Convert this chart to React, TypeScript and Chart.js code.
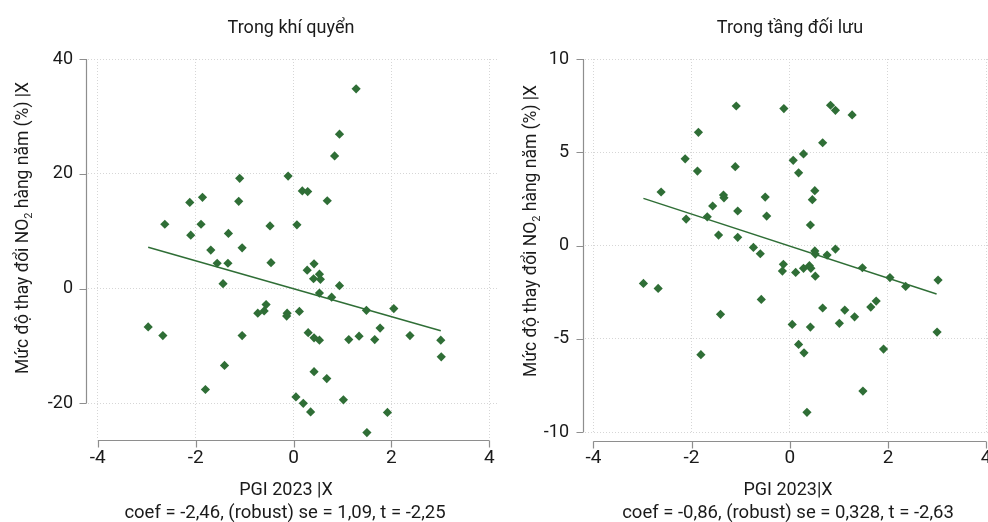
import React, { useEffect, useRef } from 'react';
import { Chart, registerables } from 'chart.js';

Chart.register(...registerables);

// ---------- data ----------
const xTicks = [-4, -2, 0, 2, 4];
const leftYTicks = [-20, 0, 20, 40];
const rightYTicks = [-10, -5, 0, 5, 10];

const leftX = [1.28, 0.94, 0.84, -1.10, -0.11, 0.18, 0.29, 0.69, -2.12, -1.86, -1.12, -2.63, -1.89, -0.48, 0.07, -2.10, -1.33, -1.69, -1.05, -1.56, -1.34, -0.46, 0.42, 0.28, -1.44, 0.53, 0.41, 0.55, 0.94, 0.53, 0.78, 1.49, 2.05, -0.56, -0.73, -0.60, -0.13, -0.14, 0.12, -2.97, -2.67, -1.05, 0.30, 0.42, 0.53, 1.13, 1.34, 1.66, 1.77, 2.38, 3.01, 3.02, -1.41, 0.42, 0.68, -1.80, 0.05, 0.20, 0.35, 1.02, 1.92, 1.50];
const leftY = [34.8, 26.9, 23.1, 19.2, 19.6, 17.0, 16.9, 15.3, 15.0, 15.9, 15.2, 11.2, 11.2, 10.9, 11.1, 9.3, 9.6, 6.7, 7.1, 4.4, 4.4, 4.5, 4.3, 3.2, 0.85, 2.5, 1.7, 1.6, 0.5, -0.8, -1.5, -3.8, -3.5, -2.8, -4.3, -3.9, -4.3, -4.8, -4.0, -6.7, -8.2, -8.2, -7.7, -8.6, -9.0, -8.9, -8.3, -8.9, -6.9, -8.2, -9.0, -11.9, -13.4, -14.5, -15.7, -17.6, -18.9, -20.0, -21.5, -19.4, -21.6, -25.1];
const leftFitX = [-2.97, 3.01];
const leftFitY = [7.2, -7.35];

const rightX = [-1.09, -0.12, 0.83, 0.93, 1.27, -1.86, 0.67, -2.13, 0.28, 0.07, -1.11, -1.88, 0.18, -2.62, -1.35, -1.34, -0.50, 0.51, 0.46, -1.57, -1.06, -0.47, -2.11, -1.68, 0.42, -1.45, -1.06, -0.74, -0.60, 0.93, 0.51, 0.52, 0.76, -0.13, -0.15, 0.12, 0.28, 0.40, 0.43, 1.48, 2.04, 2.36, 3.02, 0.52, -2.98, -2.68, -0.58, 1.76, 1.65, 0.67, 1.12, 1.32, -1.41, 1.01, 0.05, 0.42, 3.00, 0.18, 1.91, -1.81, 0.29, 1.49, 0.35];
const rightY = [7.48, 7.34, 7.52, 7.25, 7.0, 6.07, 5.51, 4.65, 4.91, 4.57, 4.23, 3.99, 3.90, 2.87, 2.71, 2.56, 2.60, 2.94, 2.46, 2.12, 1.85, 1.58, 1.42, 1.54, 1.10, 0.56, 0.44, -0.10, -0.44, -0.19, -0.29, -0.46, -0.51, -1.01, -1.37, -1.44, -1.22, -1.08, -1.22, -1.19, -1.72, -2.19, -1.85, -1.64, -2.03, -2.30, -2.89, -2.98, -3.30, -3.35, -3.46, -3.82, -3.69, -4.17, -4.23, -4.37, -4.64, -5.30, -5.55, -5.85, -5.75, -7.80, -8.94];
const rightFitX = [-2.98, 2.99];
const rightFitY = [2.53, -2.60];

const leftTitle = 'Trong khí quyển';
const rightTitle = 'Trong tầng đối lưu';
const leftXTitle = 'PGI 2023 |X';
const rightXTitle = 'PGI 2023|X';
const leftCoef = 'coef = -2,46, (robust) se = 1,09, t = -2,25';
const rightCoef = 'coef = -0,86, (robust) se = 0,328, t = -2,63';
const yTitleParts = ['Mức độ thay đổi NO', '2', ' hàng năm (%) |X'];

// ---------- style ----------
const GREEN = '#2f6e36';
const AXIS = '#8e8e8e';
const GRID = '#d6d6d6';
const TEXT = '#1a1a1a';
const FONT = 'Roboto, "Noto Sans", sans-serif';

const decorPlugin = {
  id: 'panelDecor',
  afterDraw(chart: any, _args: any, o: any) {
    const ctx = chart.ctx as CanvasRenderingContext2D;
    const xs = chart.scales.x;
    const ys = chart.scales.y;
    const area = chart.chartArea;
    ctx.save();
    ctx.strokeStyle = AXIS;
    ctx.lineWidth = 1.2;
    // y axis line and ticks
    const ax = Math.round(area.left - 2) + 0.5;
    const yT = o.yTicks as number[];
    ctx.beginPath();
    ctx.moveTo(ax, ys.getPixelForValue(yT[yT.length - 1]));
    ctx.lineTo(ax, ys.getPixelForValue(yT[0]));
    for (const t of yT) {
      const p = Math.round(ys.getPixelForValue(t)) + 0.5;
      ctx.moveTo(ax - 7, p);
      ctx.lineTo(ax, p);
    }
    // x axis line and ticks
    const ay = o.xAxisY + 0.5;
    ctx.moveTo(xs.getPixelForValue(xTicks[0]), ay);
    ctx.lineTo(xs.getPixelForValue(xTicks[xTicks.length - 1]), ay);
    for (const t of xTicks) {
      const p = Math.round(xs.getPixelForValue(t)) + 0.5;
      ctx.moveTo(p, ay);
      ctx.lineTo(p, ay + 7);
    }
    ctx.stroke();

    ctx.fillStyle = TEXT;
    ctx.textAlign = 'center';
    ctx.textBaseline = 'alphabetic';
    ctx.font = `18px ${FONT}`;
    ctx.fillText(o.title, o.titleX, 33);
    ctx.fillText(o.xTitle, o.xTitleX, 495);
    ctx.font = `18.5px ${FONT}`;
    ctx.fillText(o.coef, o.coefX, 518);

    // rotated y title with subscript
    const big = `17.5px ${FONT}`;
    const small = `11px ${FONT}`;
    ctx.font = big;
    const w0 = ctx.measureText(yTitleParts[0]).width;
    const w2 = ctx.measureText(yTitleParts[2]).width;
    ctx.font = small;
    const w1 = ctx.measureText(yTitleParts[1]).width;
    const total = w0 + w1 + w2;
    ctx.translate(o.yTitleX, o.yTitleY);
    ctx.rotate(-Math.PI / 2);
    ctx.textAlign = 'left';
    let cx = -total / 2;
    ctx.font = big;
    ctx.fillText(yTitleParts[0], cx, 0);
    cx += w0;
    ctx.font = small;
    ctx.fillText(yTitleParts[1], cx, 4);
    cx += w1;
    ctx.font = big;
    ctx.fillText(yTitleParts[2], cx, 0);
    ctx.restore();
  },
};

function makeConfig(p: any) {
  return {
    type: 'scatter',
    data: {
      datasets: [
        {
          type: 'scatter',
          data: p.xs.map((x: number, i: number) => ({ x, y: p.ys[i] })),
          pointStyle: 'rectRot',
          pointRadius: 4.6,
          backgroundColor: GREEN,
          borderWidth: 0,
          order: 0,
        },
        {
          type: 'line',
          data: p.fitX.map((x: number, i: number) => ({ x, y: p.fitY[i] })),
          borderColor: GREEN,
          borderWidth: 1.5,
          pointRadius: 0,
          fill: false,
          order: 1,
        },
      ],
    },
    options: {
      responsive: false,
      animation: false,
      devicePixelRatio: 1,
      layout: { padding: { top: 59, right: p.padRight, bottom: 0, left: 0 } },
      plugins: {
        legend: { display: false },
        tooltip: { enabled: false },
        panelDecor: p.decor,
      },
      scales: {
        x: {
          type: 'linear',
          min: p.xMin,
          max: p.xMax,
          afterBuildTicks: (s: any) => {
            s.ticks = xTicks.map((v) => ({ value: v }));
          },
          afterFit: (s: any) => {
            s.height = p.xHeight;
          },
          grid: { color: GRID, lineWidth: 1, drawTicks: false },
          border: { display: false, dash: [1, 2] },
          ticks: {
            padding: p.xPad,
            color: TEXT,
            font: { family: FONT, size: 19 },
            autoSkip: false,
            maxRotation: 0,
            callback: (v: any) => String(v),
          },
        },
        y: {
          type: 'linear',
          min: p.yMin,
          max: p.yMax,
          afterBuildTicks: (s: any) => {
            s.ticks = p.yTicks.map((v: number) => ({ value: v }));
          },
          afterFit: (s: any) => {
            s.width = p.yWidth;
          },
          grid: { color: GRID, lineWidth: 1, drawTicks: false },
          border: { display: false, dash: [1, 2] },
          ticks: {
            padding: p.yPad,
            color: TEXT,
            font: { family: FONT, size: 18 },
            autoSkip: false,
            callback: (v: any) => String(v),
          },
        },
      },
    },
    plugins: [decorPlugin],
  } as any;
}

function Panel(props: { left: number; cfg: any }) {
  const ref = useRef<HTMLCanvasElement | null>(null);
  useEffect(() => {
    if (!ref.current) return;
    const chart = new Chart(ref.current, makeConfig(props.cfg));
    return () => chart.destroy();
  }, []);
  return (
    <canvas
      ref={ref}
      width={520}
      height={522}
      style={{ position: 'absolute', left: props.left, top: 0, width: 520, height: 522 }}
    />
  );
}

const leftCfg = {
  xs: leftX, ys: leftY, fitX: leftFitX, fitY: leftFitY,
  xMin: -4.2, xMax: 4.2, yMin: -26.4, yMax: 40, yTicks: leftYTicks,
  padRight: 21, xHeight: 82, yWidth: 88, xPad: 7, yPad: 15,
  decor: {
    yTicks: leftYTicks, xAxisY: 440, title: leftTitle, titleX: 291,
    xTitle: leftXTitle, xTitleX: 286, coef: leftCoef, coefX: 285,
    yTitleX: 28, yTitleY: 228,
  },
};

const rightCfg = {
  xs: rightX, ys: rightY, fitX: rightFitX, fitY: rightFitY,
  xMin: -4.17, xMax: 4.2, yMin: -10.05, yMax: 10, yTicks: rightYTicks,
  padRight: 18, xHeight: 89, yWidth: 91, xPad: 14, yPad: 16,
  decor: {
    yTicks: rightYTicks, xAxisY: 441, title: rightTitle, titleX: 296,
    xTitle: rightXTitle, xTitleX: 294, coef: rightCoef, coefX: 294,
    yTitleX: 42, yTitleY: 231,
  },
};

export default function App() {
  return (
    <div
      style={{
        position: 'fixed', left: 0, top: 0, width: 988, height: 522,
        overflow: 'hidden', background: '#ffffff',
      }}
    >
      <Panel left={0} cfg={leftCfg} />
      <Panel left={494} cfg={rightCfg} />
    </div>
  );
}
